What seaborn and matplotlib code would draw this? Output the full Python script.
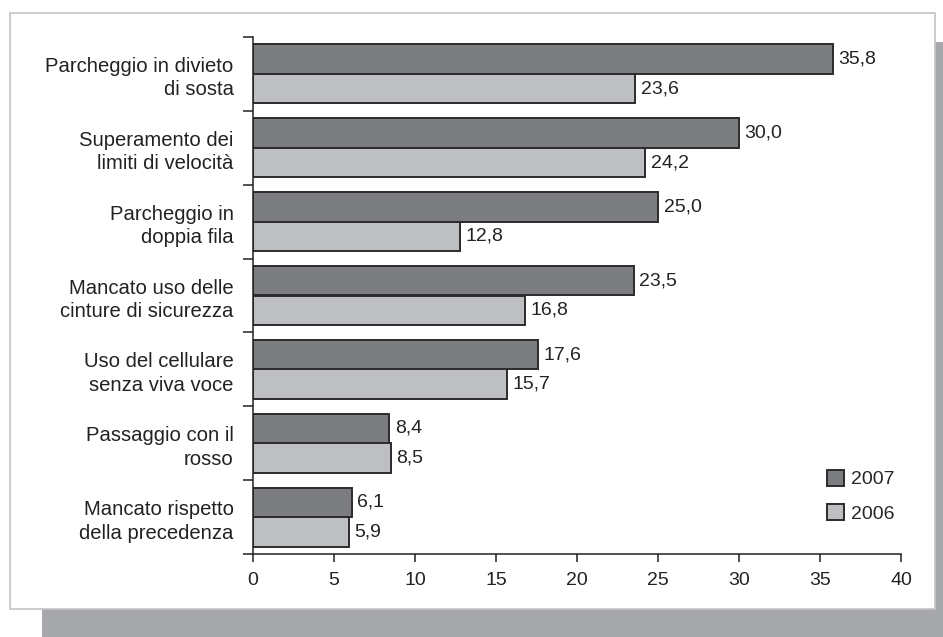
import numpy as np
import pandas as pd
import matplotlib
matplotlib.use("Agg")
import matplotlib.pyplot as plt
from matplotlib.patches import Rectangle, Patch
import seaborn as sns

categories = [
    "Parcheggio in divieto\ndi sosta",
    "Superamento dei\nlimiti di velocità",
    "Parcheggio in\ndoppia fila",
    "Mancato uso delle\ncinture di sicurezza",
    "Uso del cellulare\nsenza viva voce",
    "Passaggio con il\nrosso",
    "Mancato rispetto\ndella precedenza",
]
years = ["2007", "2006"]
values_2007 = [35.8, 30.0, 25.0, 23.5, 17.6, 8.4, 6.1]
values_2006 = [23.6, 24.2, 12.8, 16.8, 15.7, 8.5, 5.9]
x_ticks = [0, 5, 10, 15, 20, 25, 30, 35, 40]

sns.set_style("white")
plt.rcParams["font.family"] = ["Liberation Sans", "DejaVu Sans"]
plt.rcParams["font.size"] = 14

df = pd.DataFrame({
    "categoria": categories * 2,
    "anno": [years[0]] * len(categories) + [years[1]] * len(categories),
    "valore": values_2007 + values_2006,
})

colors = {"2007": "#7c7d81", "2006": "#bebfc2"}
edge = "#2b2b2b"
ink = "#222222"

W, H = 943, 637
fig = plt.figure(figsize=(W / 100, H / 100), dpi=100)

# framed panel with drop shadow, kept behind the axes
fig.patches.append(Rectangle((42 / W, 0), 1 - 42 / W, 1 - 42 / H,
                             transform=fig.transFigure, facecolor="#a7a8ab",
                             edgecolor="none", zorder=-3))
fig.patches.append(Rectangle((10 / W, 1 - 609 / H), (935 - 10) / W, (609 - 13) / H,
                             transform=fig.transFigure, facecolor="white",
                             edgecolor="#c4c4c4", linewidth=1.2, zorder=-2))

ax = fig.add_axes([253 / W, 1 - 554 / H, (901 - 253) / W, (554 - 37) / H])
ax.set_facecolor("none")

sns.barplot(data=df, y="categoria", x="valore", hue="anno", hue_order=years,
            order=categories, orient="h", palette=colors, saturation=1,
            edgecolor=edge, linewidth=1.4, width=0.8, ax=ax, legend=False)

for container, vals in zip(ax.containers, [values_2007, values_2006]):
    ax.bar_label(container, labels=[f"{v:.1f}".replace(".", ",") for v in vals],
                 padding=4, fontsize=14, color=ink)

ax.set_xlim(0, 40)
ax.set_ylim(6.5, -0.5)
ax.set_xticks(x_ticks)
ax.set_xticklabels([str(t) for t in x_ticks])
ax.set_yticks(range(len(categories)))
ax.set_yticklabels(categories, linespacing=1.3)
ax.set_yticks(np.arange(-0.5, len(categories), 1), minor=True)
ax.tick_params(axis="y", which="major", left=True, length=0, pad=14,
               labelsize=14.6, labelcolor=ink)
ax.tick_params(axis="y", which="minor", left=True, length=7.5, width=1.1,
               color=ink, direction="out")
ax.tick_params(axis="x", which="major", bottom=True, length=6, width=1.1, color=ink,
               pad=7, labelsize=14, labelcolor=ink, direction="out")
ax.set_xlabel("")
ax.set_ylabel("")

for side in ("top", "right"):
    ax.spines[side].set_visible(False)
for side in ("left", "bottom"):
    ax.spines[side].set_color(ink)
    ax.spines[side].set_linewidth(1.1)

handles = [Patch(facecolor=colors[y], edgecolor=edge, linewidth=1.4, label=y) for y in years]
ax.legend(handles=handles, loc="upper left", bbox_to_anchor=(827 / W, 1 - 470 / H),
          bbox_transform=fig.transFigure, frameon=False, fontsize=14,
          handlelength=0.85, handleheight=0.85, handletextpad=0.4,
          labelspacing=0.8, borderpad=0, borderaxespad=0)

fig.savefig("out.png", dpi=100)
